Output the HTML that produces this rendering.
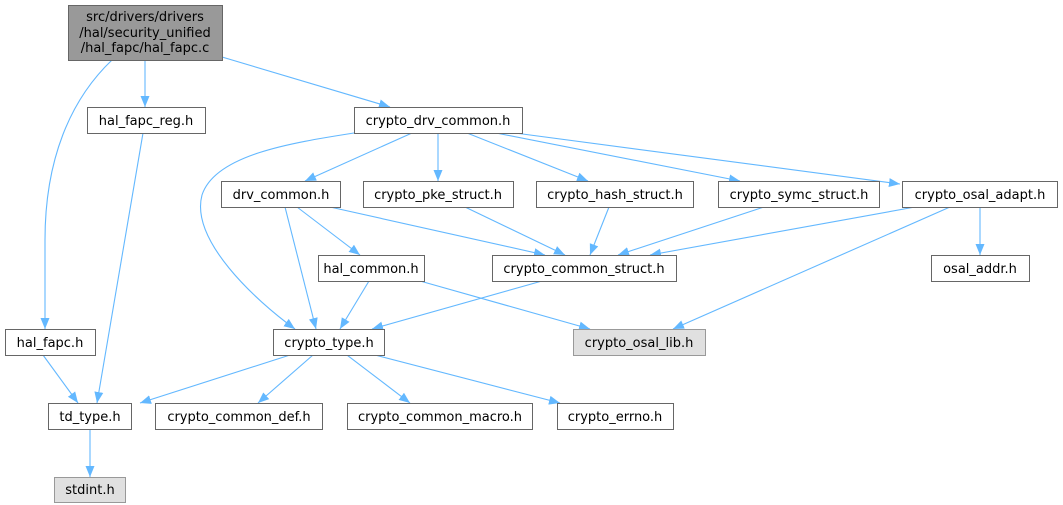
<!DOCTYPE html>
<html><head><meta charset="utf-8"><style>
html,body{margin:0;padding:0;background:#fff;}
svg{display:block;}
text{font-family:"DejaVu Sans","Liberation Sans",sans-serif;font-size:13px;fill:#000;}
</style></head><body>
<svg width="1063" height="505" viewBox="0 0 1063 505" xmlns="http://www.w3.org/2000/svg">
<defs>
<marker id="a" viewBox="0 0 11 10" refX="11" refY="5" markerWidth="11" markerHeight="10" markerUnits="userSpaceOnUse" orient="auto">
<path d="M0,0.5 L11,5 L0,9.5 z" fill="#63b8ff"/>
</marker>
</defs>
<g stroke="#63b8ff" stroke-width="1.1" fill="none" marker-end="url(#a)">
<path d="M145,60 L145,107"/>
<path d="M222,57 L390,107"/>
<path d="M112,60 C70,100 45,160 45,240 L45,329"/>
<path d="M143,133 L97,403"/>
<path d="M43,355 L78,403"/>
<path d="M354,133 C290,143 215,155 202,195 C190,240 255,300 295,329"/>
<path d="M412,133 L305,181"/>
<path d="M438,133 L438,181"/>
<path d="M467,133 L588,181"/>
<path d="M496,133 L740,181"/>
<path d="M515,133 L900,184"/>
<path d="M285,207 L316,329"/>
<path d="M297,207 L360,255"/>
<path d="M330,207 L545,255"/>
<path d="M465,207 L565,255"/>
<path d="M609,207 L590,255"/>
<path d="M764,207 L618,255"/>
<path d="M915,207 L650,255"/>
<path d="M950,207 L673,329"/>
<path d="M980,207 L980,255"/>
<path d="M369,281 L340,329"/>
<path d="M420,281 L590,329"/>
<path d="M542,281 L372,329"/>
<path d="M290,355 L140,403"/>
<path d="M313,355 L258,403"/>
<path d="M347,355 L410,403"/>
<path d="M375,355 L560,403"/>
<path d="M90,429 L90,477"/>
</g>
<g stroke="#666" stroke-width="1" fill="#fff">
<rect x="68.5" y="5.5" width="154" height="55" fill="#999"/>
<rect x="87.5" y="107.5" width="118" height="26"/>
<rect x="354.5" y="107.5" width="168" height="26"/>
<rect x="221.5" y="181.5" width="119" height="26"/>
<rect x="363.5" y="181.5" width="150" height="26"/>
<rect x="536.5" y="181.5" width="157" height="26"/>
<rect x="718.5" y="181.5" width="161" height="26"/>
<rect x="902.5" y="181.5" width="155" height="26"/>
<rect x="318.5" y="255.5" width="106" height="26"/>
<rect x="492.5" y="255.5" width="184" height="26"/>
<rect x="931.5" y="255.5" width="98" height="26"/>
<rect x="5.5" y="329.5" width="90" height="26"/>
<rect x="273.5" y="329.5" width="111" height="26"/>
<rect x="573.5" y="329.5" width="132" height="26" fill="#e0e0e0" stroke="#999"/>
<rect x="48.5" y="403.5" width="83" height="26"/>
<rect x="155.5" y="403.5" width="167" height="26"/>
<rect x="347.5" y="403.5" width="185" height="26"/>
<rect x="557.5" y="403.5" width="116" height="26"/>
<rect x="54.5" y="477.5" width="71" height="25" fill="#e0e0e0" stroke="#999"/>
</g>
<g text-anchor="middle">
<text x="145" y="21">src/drivers/drivers</text>
<text x="145" y="37">/hal/security_unified</text>
<text x="145" y="52">/hal_fapc/hal_fapc.c</text>
<text x="146" y="125">hal_fapc_reg.h</text>
<text x="438" y="125">crypto_drv_common.h</text>
<text x="281" y="199">drv_common.h</text>
<text x="438" y="199">crypto_pke_struct.h</text>
<text x="615" y="199">crypto_hash_struct.h</text>
<text x="799" y="199">crypto_symc_struct.h</text>
<text x="980" y="199">crypto_osal_adapt.h</text>
<text x="371" y="273">hal_common.h</text>
<text x="584" y="273">crypto_common_struct.h</text>
<text x="980" y="273">osal_addr.h</text>
<text x="50" y="347">hal_fapc.h</text>
<text x="329" y="347">crypto_type.h</text>
<text x="639" y="347">crypto_osal_lib.h</text>
<text x="90" y="421">td_type.h</text>
<text x="239" y="421">crypto_common_def.h</text>
<text x="440" y="421">crypto_common_macro.h</text>
<text x="615" y="421">crypto_errno.h</text>
<text x="90" y="494">stdint.h</text>
</g>
</svg>
</body></html>
